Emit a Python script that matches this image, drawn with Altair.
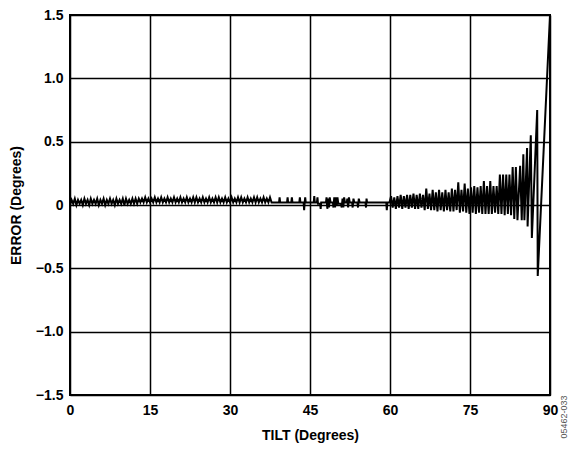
import altair as alt
import pandas as pd

# Tilt angle samples (degrees)
tilt = [
    0.0, 0.3, 0.6, 0.9, 1.2, 1.5, 1.8, 2.1, 2.4, 2.7, 3.0, 3.3, 3.6, 3.9, 4.2, 4.5, 4.8, 5.1, 5.4, 5.7,
    6.0, 6.3, 6.6, 6.9, 7.2, 7.5, 7.8, 8.1, 8.4, 8.7, 9.0, 9.3, 9.6, 9.9, 10.2, 10.5, 10.8, 11.1, 11.4, 11.7,
    12.0, 12.3, 12.6, 12.9, 13.2, 13.5, 13.8, 14.1, 14.4, 14.7, 15.0, 15.3, 15.6, 15.9, 16.2, 16.5, 16.8, 17.1, 17.4, 17.7,
    18.0, 18.3, 18.6, 18.9, 19.2, 19.5, 19.8, 20.1, 20.4, 20.7, 21.0, 21.3, 21.6, 21.9, 22.2, 22.5, 22.8, 23.1, 23.4, 23.7,
    24.0, 24.3, 24.6, 24.9, 25.2, 25.5, 25.8, 26.1, 26.4, 26.7, 27.0, 27.3, 27.6, 27.9, 28.2, 28.5, 28.8, 29.1, 29.4, 29.7,
    30.0, 30.3, 30.6, 30.9, 31.2, 31.5, 31.8, 32.1, 32.4, 32.7, 33.0, 33.3, 33.6, 33.9, 34.2, 34.5, 34.8, 35.1, 35.4, 35.7,
    36.0, 36.3, 36.6, 36.9, 37.2, 37.5, 37.8,
    38.4, 39.2, 39.3, 39.4, 40.7, 40.8, 40.9, 41.5, 41.6, 41.7, 43.0, 43.1, 43.2, 43.8, 43.9, 44.0, 44.1, 44.2,
    45.7, 45.8, 45.9, 46.3, 46.4, 46.5, 46.9, 47.0, 47.1, 48.0, 48.1, 48.25, 48.4, 48.55, 48.7, 48.85,
    49.3, 49.4, 49.55, 49.7, 49.85, 50.0, 50.15, 50.3, 50.8, 50.95, 51.1, 51.25, 51.4, 51.55,
    51.9, 52.0, 52.15, 52.3, 52.45, 52.9, 53.0, 53.15, 53.3, 53.9, 54.0, 54.15, 54.3,
    55.4, 55.5, 55.6, 55.7, 59.3, 59.4, 59.5, 59.9,
    60.2, 60.5, 60.8, 61.1, 61.4, 61.7, 62.0, 62.3, 62.6, 62.9, 63.2, 63.5, 63.8, 64.1, 64.4, 64.7,
    65.0, 65.3, 65.6, 65.9, 66.2, 66.5, 66.8, 67.1, 67.4, 67.7, 68.0, 68.3, 68.6, 68.9, 69.2, 69.5,
    69.8, 70.1, 70.4, 70.7, 71.0, 71.3, 71.6, 71.9, 72.2, 72.5, 72.8, 73.1, 73.4, 73.7, 74.0, 74.3,
    74.6, 74.9, 75.2, 75.5, 75.8, 76.1, 76.4, 76.7, 77.0, 77.3, 77.6, 77.9, 78.2, 78.5, 78.8, 79.1,
    79.4, 79.7, 80.0, 80.3, 80.6, 80.9, 81.2, 81.5, 81.8, 82.1, 82.4, 82.7,
    83.0, 83.3, 83.6, 83.9, 84.4, 84.7, 85.0, 85.2, 85.7, 85.8, 86.4, 86.6, 87.6, 87.7, 90.0,
]

# Measured error (degrees)
error = [
    0.00, 0.04, 0.01, 0.05, 0.00, 0.04, 0.01, 0.04, 0.00, 0.05, 0.01, 0.04, 0.00, 0.05, 0.01, 0.04, 0.01, 0.05, 0.00, 0.04,
    0.01, 0.05, 0.00, 0.04, 0.01, 0.05, 0.01, 0.04, 0.00, 0.05, 0.01, 0.04, 0.01, 0.05, 0.00, 0.05, 0.01, 0.04, 0.01, 0.05,
    0.01, 0.05, 0.01, 0.05, 0.02, 0.05, 0.02, 0.06, 0.02, 0.05, 0.02, 0.05, 0.02, 0.06, 0.02, 0.05, 0.02, 0.06, 0.02, 0.05,
    0.02, 0.06, 0.02, 0.05, 0.02, 0.06, 0.02, 0.05, 0.02, 0.06, 0.02, 0.05, 0.02, 0.06, 0.02, 0.05, 0.02, 0.06, 0.02, 0.06,
    0.02, 0.05, 0.02, 0.06, 0.02, 0.05, 0.02, 0.06, 0.02, 0.05, 0.02, 0.06, 0.02, 0.06, 0.02, 0.05, 0.02, 0.06, 0.02, 0.05,
    0.02, 0.06, 0.02, 0.05, 0.02, 0.06, 0.02, 0.06, 0.02, 0.05, 0.02, 0.06, 0.02, 0.05, 0.02, 0.06, 0.02, 0.06, 0.02, 0.05,
    0.02, 0.06, 0.02, 0.05, 0.02, 0.06, 0.02,
    0.02, 0.02, 0.06, 0.02, 0.02, 0.06, 0.02, 0.02, 0.06, 0.02, 0.02, 0.06, 0.02, 0.02, -0.04, 0.02, 0.06, 0.02,
    0.02, 0.07, 0.02, 0.02, 0.06, 0.01, 0.01, -0.03, 0.02, 0.02, 0.06, -0.03, 0.05, -0.02, 0.06, 0.02,
    0.02, -0.02, 0.06, -0.02, 0.06, 0.00, 0.06, 0.01, 0.01, -0.02, 0.05, -0.02, 0.06, 0.02,
    0.02, 0.05, -0.02, 0.06, 0.02, 0.02, -0.02, 0.05, 0.02, 0.02, -0.02, 0.05, 0.02,
    0.02, -0.02, 0.05, 0.02, 0.02, -0.04, 0.02, 0.02,
    0.07, -0.02, 0.06, -0.03, 0.07, -0.02, 0.08, -0.03, 0.07, -0.02, 0.08, -0.03, 0.08, -0.02, 0.09, -0.03,
    0.08, -0.03, 0.09, -0.02, 0.08, -0.04, 0.13, -0.03, 0.09, -0.04, 0.12, -0.04, 0.10, -0.05, 0.12, -0.04,
    0.10, -0.05, 0.12, -0.04, 0.10, -0.05, 0.13, -0.05, 0.12, -0.04, 0.18, -0.06, 0.12, -0.05, 0.17, -0.06,
    0.13, -0.07, 0.14, -0.06, 0.15, -0.07, 0.14, -0.06, 0.15, -0.07, 0.19, -0.07, 0.15, -0.07, 0.19, -0.07,
    0.15, -0.06, 0.15, -0.07, 0.24, -0.07, 0.24, -0.08, 0.24, -0.07, 0.24, -0.08,
    0.30, -0.11, 0.30, -0.12, 0.31, -0.12, 0.40, -0.12, 0.45, -0.17, 0.55, -0.26, 0.75, -0.56, 1.50,
]

x_ticks = [0, 15, 30, 45, 60, 75, 90]
y_ticks = [-1.5, -1.0, -0.5, 0, 0.5, 1.0, 1.5]
fig_code = ["05462-033"]

df = pd.DataFrame({"tilt": tilt, "error": error})
df_code = pd.DataFrame({"code": fig_code})

W, H = 480, 380
FONT = "Liberation Sans"

line = alt.Chart(df).mark_line(color="black", strokeWidth=2).encode(
    x=alt.X(
        "tilt:Q",
        scale=alt.Scale(domain=[0, 90], nice=False, zero=False),
        axis=alt.Axis(
            values=x_ticks,
            title="TILT (Degrees)",
            grid=True,
            gridColor="black",
            gridWidth=1.5,
            gridOpacity=1,
            ticks=False,
            domain=False,
            labelPadding=8,
            titlePadding=11,
            labelFlush=False,
        ),
    ),
    y=alt.Y(
        "error:Q",
        scale=alt.Scale(domain=[-1.5, 1.5], nice=False, zero=False),
        axis=alt.Axis(
            values=y_ticks,
            title="ERROR (Degrees)",
            grid=True,
            gridColor="black",
            gridWidth=1.5,
            gridOpacity=1,
            ticks=False,
            domain=False,
            labelPadding=7,
            titlePadding=12,
            labelFlush=False,
            labelExpr="datum.value == 0 ? '0' : replace(format(datum.value, '.1f'), '-', '\u2013')",
        ),
    ),
)

code = alt.Chart(df_code).mark_text(
    angle=270, fontSize=9, color="#555555", font=FONT, align="center", baseline="middle"
).encode(
    text="code:N",
    x=alt.value(W + 14),
    y=alt.value(H + 22),
)

chart = (
    alt.layer(line, code)
    .properties(
        width=W,
        height=H,
        autosize=alt.AutoSizeParams(type="none"),
        padding={"left": 62, "top": 7, "right": 20, "bottom": 50},
    )
    .configure_view(stroke="black", strokeWidth=2)
    .configure_axis(
        labelFont=FONT,
        labelFontWeight="bold",
        labelFontSize=14,
        labelColor="black",
        titleFont=FONT,
        titleFontWeight="bold",
        titleFontSize=14,
        titleColor="black",
    )
)

chart.save("out.html", embed_options={"renderer": "svg", "actions": False})
